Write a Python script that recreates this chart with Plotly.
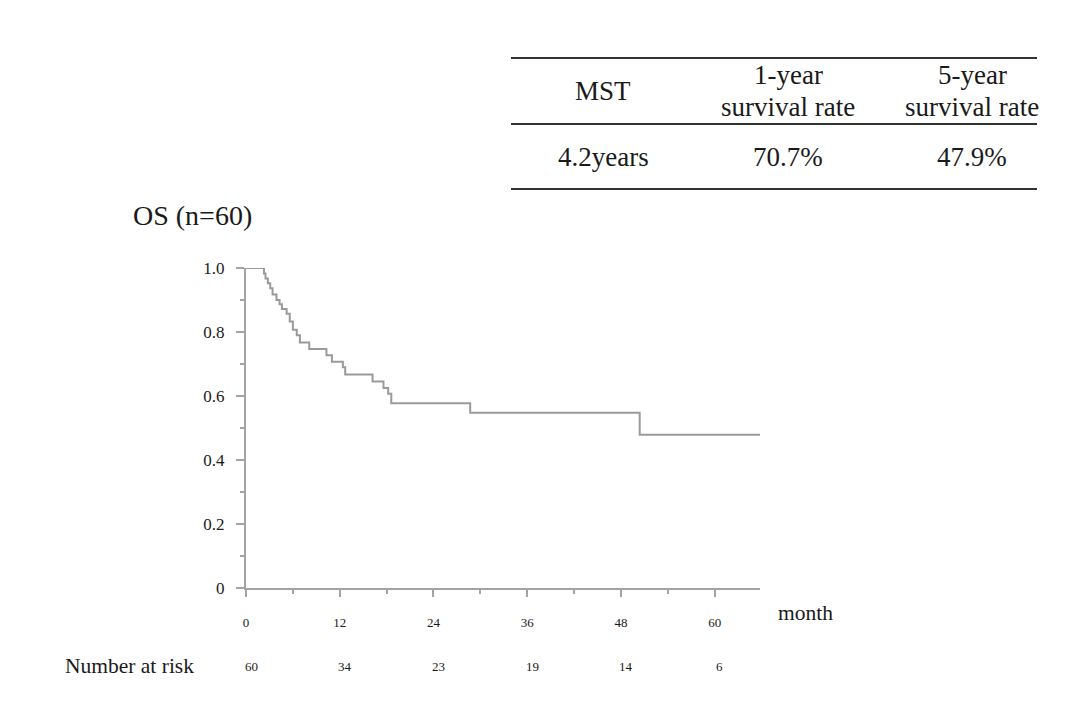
import plotly.graph_objects as go

# Kaplan-Meier step data (months, survival probability)
months = [0, 2.3, 2.5, 2.8, 3.1, 3.4, 3.9, 4.3, 4.6, 5.2, 5.6, 6.0, 6.5, 6.9,
          8.1, 10.3, 11.0, 12.4, 12.7, 16.2, 17.6, 18.2, 18.6, 28.7, 50.4, 65.8]
survival = [1.0, 0.983, 0.967, 0.952, 0.937, 0.917, 0.9, 0.887, 0.872, 0.857,
            0.833, 0.807, 0.79, 0.767, 0.747, 0.727, 0.707, 0.69, 0.667, 0.645,
            0.625, 0.607, 0.577, 0.548, 0.479, 0.479]

x_ticks = [0, 12, 24, 36, 48, 60]
x_minor = [6, 18, 30, 42, 54]
y_ticks = [0, 0.2, 0.4, 0.6, 0.8, 1.0]
y_ticktext = ["0", "0.2", "0.4", "0.6", "0.8", "1.0"]
y_minor = [0.1, 0.3, 0.5, 0.7, 0.9]

risk_times = [0, 12, 24, 36, 48, 60]
risk_numbers = [60, 34, 23, 19, 14, 6]

table_header_line1 = ["MST", "1-year", "5-year"]
table_header_line2 = ["", "survival rate", "survival rate"]
table_values = ["4.2years", "70.7%", "47.9%"]

W, H = 1080, 709
OFF = 8  # page body margin
L = 246 - OFF
T = 268 - OFF
R = W - (760 - OFF)
B = H - (588 - OFF)
plot_h = H - T - B
plot_w = W - L - R

def py(pix):
    """target pixel y (from top of window) -> paper y"""
    return (H - B - (pix - OFF)) / plot_h

def px(pix):
    return ((pix - OFF) - L) / plot_w

FONT = "Liberation Serif"
AX = "#a3a3a3"
TXT = "#1a1a1a"

fig = go.Figure()
fig.add_trace(go.Scatter(x=months, y=survival, mode="lines",
                         line=dict(shape="hv", color="#9a9a9a", width=2),
                         cliponaxis=False, hoverinfo="skip", showlegend=False))

fig.update_layout(
    width=W, height=H,
    margin=dict(l=L, r=R, t=T, b=B),
    paper_bgcolor="white", plot_bgcolor="white",
    font=dict(family=FONT, color=TXT),
    showlegend=False,
    xaxis=dict(range=[0, 65.8], tickvals=x_ticks, ticktext=[str(v) for v in x_ticks],
               showgrid=False, zeroline=False, showline=True, linecolor=AX, linewidth=2,
               ticks="outside", ticklen=7, tickwidth=2, tickcolor=AX,
               tickfont=dict(size=13, family=FONT, color=TXT), ticklabelstandoff=14,
               minor=dict(tickvals=x_minor, ticks="outside", ticklen=4, tickwidth=2, tickcolor=AX),
               fixedrange=True),
    yaxis=dict(range=[0, 1], tickvals=y_ticks, ticktext=y_ticktext,
               showgrid=False, zeroline=False, showline=True, linecolor=AX, linewidth=2,
               ticks="outside", ticklen=8, tickwidth=2, tickcolor=AX,
               tickfont=dict(size=17, family=FONT, color=TXT), ticklabelstandoff=8,
               minor=dict(tickvals=y_minor, ticks="outside", ticklen=4, tickwidth=2, tickcolor=AX),
               fixedrange=True),
)

annotations = []
def txt(xpix, ypix, s, size, anchor="center"):
    annotations.append(dict(x=px(xpix), y=py(ypix), xref="paper", yref="paper", text=s,
                            showarrow=False, xanchor=anchor, yanchor="middle",
                            font=dict(size=size, family=FONT, color=TXT)))

txt(776, 613, "month", 21.5, "left")
txt(131, 216, "OS (n=60)", 28, "left")
txt(63, 666, "Number at risk", 21.5, "left")
for t, n in zip(risk_times, risk_numbers):
    annotations.append(dict(x=t, y=py(666), xref="x", yref="paper", text=str(n),
                            showarrow=False, xanchor="center", yanchor="middle", xshift=5,
                            font=dict(size=13, family=FONT, color=TXT)))

col_centers = [603, 788, 972]
for cx, h1, h2 in zip(col_centers, table_header_line1, table_header_line2):
    if h2:
        txt(cx, 75, h1, 27)
        txt(cx, 107, h2, 27)
    else:
        txt(cx, 91, h1, 27)
for cx, v in zip(col_centers, table_values):
    txt(cx, 157, v, 27)
fig.update_layout(annotations=annotations)

shapes = []
for ly in [58, 124, 189]:
    shapes.append(dict(type="line", xref="paper", yref="paper",
                       x0=px(511), x1=px(1037), y0=py(ly), y1=py(ly),
                       line=dict(color="#333333", width=2)))
fig.update_layout(shapes=shapes)

fig.write_html("out.html")
